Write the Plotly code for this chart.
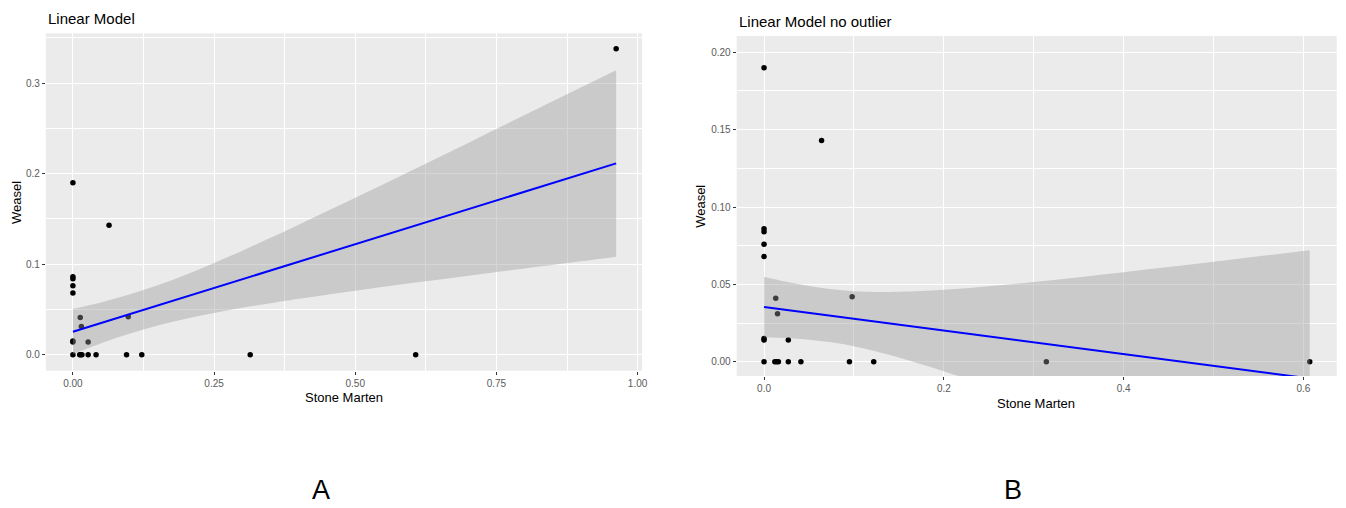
import plotly.graph_objects as go

# ---------------- data ----------------
stone_marten = [0, 0.064, 0, 0, 0, 0, 0.013, 0.015, 0, 0, 0.027, 0.098,
                0, 0.012, 0.014, 0.016, 0.027, 0.041, 0.095, 0.122, 0.314, 0.607, 0.962]
weasel = [0.19, 0.143, 0.086, 0.084, 0.076, 0.068, 0.041, 0.031, 0.015, 0.014, 0.014, 0.042,
          0, 0, 0, 0, 0, 0, 0, 0, 0, 0, 0.338]

# panel B: same data without the outlier (last point)
stone_marten_b = stone_marten[:-1]
weasel_b = weasel[:-1]

# fitted line and confidence band, panel A
fit_a_x = [0, 0.962]
fit_a_y = [0.0254, 0.2113]
band_a_x = [0, 0.05, 0.1, 0.15, 0.2, 0.25, 0.3, 0.35, 0.4, 0.5, 0.6, 0.7, 0.8, 0.9, 0.962]
band_a_hi = [0.0504, 0.0577, 0.0664, 0.0767, 0.0884, 0.1013, 0.1149, 0.1291, 0.1436,
             0.1733, 0.2035, 0.2339, 0.2647, 0.2954, 0.3143]
band_a_lo = [0.0004, 0.0125, 0.0230, 0.0321, 0.0396, 0.0461, 0.0519, 0.0569, 0.0618,
             0.0707, 0.0791, 0.0873, 0.0953, 0.1032, 0.1083]

# fitted line and confidence band, panel B
fit_b_x = [0, 0.607]
fit_b_y = [0.0354, -0.0108]
band_b_x = [0, 0.025, 0.05, 0.075, 0.1, 0.125, 0.15, 0.2, 0.25, 0.3, 0.4, 0.5, 0.607]
band_b_hi = [0.0550, 0.0517, 0.0489, 0.0468, 0.0456, 0.0451, 0.0452, 0.0465, 0.0488,
             0.0516, 0.0579, 0.0646, 0.0721]
band_b_lo = [0.0158, 0.0153, 0.0143, 0.0126, 0.0100, 0.0067, 0.0028, -0.0061, -0.0160,
             -0.0264, -0.0479, -0.0700, -0.0937]

# tick labels
a_xticks = [0, 0.25, 0.5, 0.75, 1.0]
a_xlabels = ["0.00", "0.25", "0.50", "0.75", "1.00"]
a_yticks = [0, 0.1, 0.2, 0.3]
a_ylabels = ["0.0", "0.1", "0.2", "0.3"]
b_xticks = [0, 0.2, 0.4, 0.6]
b_xlabels = ["0.0", "0.2", "0.4", "0.6"]
b_yticks = [0, 0.05, 0.1, 0.15, 0.2]
b_ylabels = ["0.00", "0.05", "0.10", "0.15", "0.20"]

# ---------------- figure ----------------
W, H = 1346, 508
FONT = "Liberation Sans, Arial, sans-serif"
BAND = "rgba(153,153,153,0.4)"

fig = go.Figure()

def add_panel(xs, ys, bx, bhi, blo, fx, fy, xa, ya):
    fig.add_trace(go.Scatter(x=xs, y=ys, mode="markers", xaxis=xa, yaxis=ya,
                             marker=dict(color="black", size=5.5, line=dict(width=0)),
                             showlegend=False, hoverinfo="skip"))
    fig.add_trace(go.Scatter(x=bx, y=blo, mode="lines", line=dict(width=0, shape="spline"),
                             xaxis=xa, yaxis=ya, showlegend=False, hoverinfo="skip"))
    fig.add_trace(go.Scatter(x=bx, y=bhi, mode="lines", fill="tonexty", fillcolor=BAND,
                             line=dict(width=0, shape="spline"),
                             xaxis=xa, yaxis=ya, showlegend=False, hoverinfo="skip"))
    fig.add_trace(go.Scatter(x=fx, y=fy, mode="lines", line=dict(color="#0000FF", width=2),
                             xaxis=xa, yaxis=ya, showlegend=False, hoverinfo="skip"))

add_panel(stone_marten, weasel, band_a_x, band_a_hi, band_a_lo, fit_a_x, fit_a_y, "x", "y")
add_panel(stone_marten_b, weasel_b, band_b_x, band_b_hi, band_b_lo, fit_b_x, fit_b_y, "x2", "y2")

def px_x(p):
    return p / W

def px_y(p):
    return 1 - p / H

axis_common = dict(showline=False, zeroline=False, showgrid=True, gridcolor="white",
                   gridwidth=1.1, ticks="outside", ticklen=3, tickwidth=1, tickcolor="#333333",
                   tickfont=dict(family=FONT, size=10, color="#5A5A5A"), fixedrange=True)

fig.update_layout(
    width=W, height=H,
    margin=dict(l=0, r=0, t=0, b=0),
    paper_bgcolor="white", plot_bgcolor="#EBEBEB",
    xaxis=dict(domain=[px_x(46), px_x(645)], range=[-0.048, 1.008], anchor="y",
               tickmode="array", tickvals=a_xticks, ticktext=a_xlabels,
               minor=dict(dtick=0.125, tick0=0, showgrid=True, gridcolor="white", gridwidth=0.5, ticks=""),
               **axis_common),
    yaxis=dict(domain=[px_y(370.7), px_y(33.3)], range=[-0.0177, 0.355], anchor="x",
               tickmode="array", tickvals=a_yticks, ticktext=a_ylabels,
               minor=dict(dtick=0.05, tick0=0, showgrid=True, gridcolor="white", gridwidth=0.5, ticks=""),
               **axis_common),
    xaxis2=dict(domain=[px_x(740), px_x(1342.7)], range=[-0.0304, 0.637], anchor="y2",
                tickmode="array", tickvals=b_xticks, ticktext=b_xlabels,
                minor=dict(dtick=0.1, tick0=0, showgrid=True, gridcolor="white", gridwidth=0.5, ticks=""),
                **axis_common),
    yaxis2=dict(domain=[px_y(376), px_y(36)], range=[-0.0092, 0.2105], anchor="x2",
                tickmode="array", tickvals=b_yticks, ticktext=b_ylabels,
                minor=dict(dtick=0.025, tick0=0, showgrid=True, gridcolor="white", gridwidth=0.5, ticks=""),
                **axis_common),
)

ann = []
def text(s, x, y, size, xanchor="center", angle=0, color="black"):
    ann.append(dict(text=s, x=px_x(x), y=px_y(y), xref="paper", yref="paper",
                    xanchor=xanchor, yanchor="middle", showarrow=False, textangle=angle,
                    font=dict(family=FONT, size=size, color=color)))

text("Linear Model", 46, 18, 15, xanchor="left")
text("Linear Model no outlier", 740, 21, 15, xanchor="left")
text("Stone Marten", 345.5, 397, 13)
text("Stone Marten", 1041, 403, 13)
text("Weasel", 17, 202, 13, angle=-90)
text("Weasel", 704, 206, 13, angle=-90)
text("A", 322, 490, 27)
text("B", 1018, 490, 27)
fig.update_layout(annotations=ann)

fig.write_html("out.html", config={"displayModeBar": False},
               post_script="document.body.style.margin='0px';document.body.style.overflow='hidden';")
